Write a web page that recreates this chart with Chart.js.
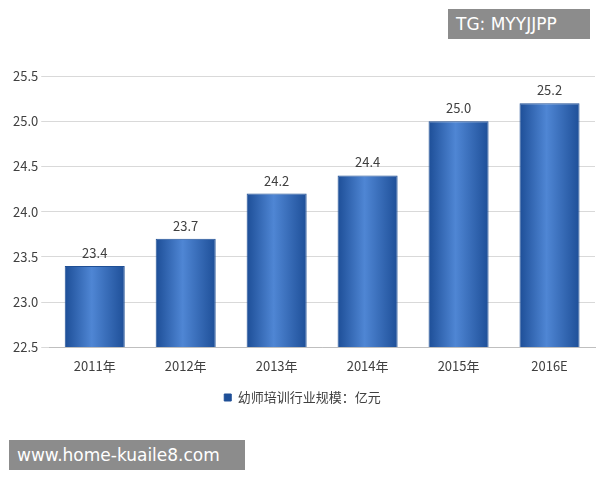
<!DOCTYPE html>
<html><head><meta charset="utf-8">
<script src="https://cdn.jsdelivr.net/npm/chart.js@4/dist/chart.umd.min.js"></script>
<style>
body{margin:0;background:#fff;}
#wrap{position:relative;width:600px;height:480px;}
.wm{position:absolute;background:#8c8c8c;color:#fff;font-family:"DejaVu Sans",sans-serif;font-size:17px;line-height:30px;padding:0 8px;}
</style></head>
<body><div id="wrap"><canvas id="c" width="600" height="480"></canvas>
<div class="wm" style="left:448px;top:9px;width:126px;">TG: MYYJJPP</div>
<div class="wm" style="left:9px;top:440px;width:220px;">www.home-kuaile8.com</div>
</div>
<script>
const categories = ['2011年', '2012年', '2013年', '2014年', '2015年', '2016E'];
const values = [23.4, 23.7, 24.2, 24.4, 25.0, 25.2];
const seriesName = '幼师培训行业规模：亿元';
const font = '"Noto Sans CJK SC","Noto Sans",sans-serif';

const labelPlugin = {
    id: 'labels',
    afterDatasetsDraw(chart) {
        const ctx = chart.ctx;
        ctx.save();
        ctx.font = '13px ' + font;
        ctx.fillStyle = '#404040';
        ctx.textAlign = 'center';
        chart.getDatasetMeta(0).data.forEach((bar, i) => {
            ctx.fillText(values[i].toFixed(1), bar.x, bar.y - 13);
        });
        ctx.restore();
    },
};

new Chart(document.getElementById('c'), {
    type: 'bar',
    data: {
        labels: categories,
        datasets: [{
            label: seriesName,
            data: values,
            base: 22.5,
            barPercentage: 0.66,
            categoryPercentage: 1,
            borderColor: '#1f4f95',
            borderWidth: 1,
            backgroundColor: (c) => {
                const chart = c.chart;
                if (!chart.chartArea || c.type !== 'data') return '#2e66b5';
                const x = chart.scales.x.getPixelForValue(c.dataIndex);
                const w = 30;
                const g = chart.ctx.createLinearGradient(x - w, 0, x + w, 0);
                g.addColorStop(0, '#1d4e97');
                g.addColorStop(0.45, '#4f86d4');
                g.addColorStop(1, '#1e4f98');
                return g;
            },
        }],
    },
    options: {
        responsive: false,
        animation: false,
        layout: { padding: { top: 76, right: 5, left: 10, bottom: 66 } },
        scales: {
            y: {
                min: 22.5, max: 25.5,
                ticks: { stepSize: 0.5, callback: (v) => v.toFixed(1), color: '#404040', font: { family: font, size: 13 } },
                grid: { color: '#d9d9d9' },
                border: { display: false },
            },
            x: {
                ticks: { color: '#404040', font: { family: font, size: 13 } },
                grid: { display: false },
                border: { color: '#bfbfbf' },
            },
        },
        plugins: {
            legend: {
                position: 'bottom',
                labels: { boxWidth: 7, boxHeight: 7, color: '#404040', font: { family: font, size: 13 }, padding: 14 },
            },
            tooltip: { enabled: false },
        },
    },
    plugins: [labelPlugin],
});
</script></body></html>
